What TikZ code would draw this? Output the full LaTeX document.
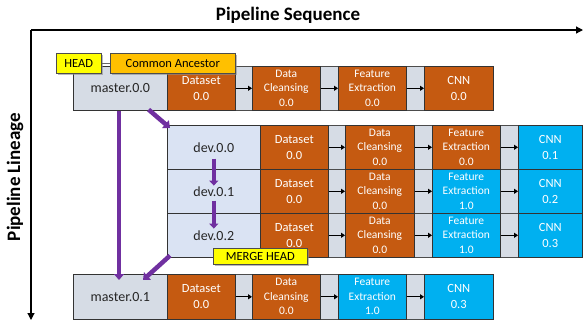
\documentclass[tikz,border=0pt]{standalone}
\usepackage{fontspec}
\setmainfont{Carlito}
\usetikzlibrary{arrows.meta,shadows}
\definecolor{corange}{HTML}{C55A11}
\definecolor{cblue}{HTML}{00B0F0}
\definecolor{cgray}{HTML}{D6DCE5}
\definecolor{cdev}{HTML}{DAE3F3}
\definecolor{cyellow}{HTML}{FFFF00}
\definecolor{cgold}{HTML}{FFC000}
\definecolor{cpurple}{HTML}{7030A0}
\tikzset{
  boxbase/.style={anchor=north west, inner sep=0pt, align=center, line width=0.6pt, draw=black!80},
  rowbg/.style={boxbase, fill=cgray, draw=black!70},
  mlabel/.style={boxbase, fill=cgray, text=black!85, font=\fontsize{14}{16}\selectfont},
  dlabel/.style={boxbase, fill=cdev, text=black!85, font=\fontsize{14}{16}\selectfont},
  ostage/.style={boxbase, fill=corange, text=white, font=\fontsize{12.5}{16}\selectfont},
  bstage/.style={boxbase, fill=cblue, text=white, font=\fontsize{12.5}{16}\selectfont},
  three/.style={font=\fontsize{11.5}{14.5}\selectfont},
  tag/.style={boxbase, draw=black!70, text=black, font=\fontsize{12.5}{14}\selectfont,
    drop shadow={shadow xshift=1.5pt, shadow yshift=-1.5pt, fill=black!45, opacity=0.6}},
  seqarrow/.style={draw=black, line width=1.3pt, -{Triangle[width=5pt,length=4pt]}},
  parrow/.style={draw=cpurple, line width=4.5pt, -{Triangle[width=10pt,length=6pt]}},
  sarrow/.style={draw=cpurple, line width=3.5pt, -{Triangle[width=9pt,length=5pt]}},
  axis/.style={draw=black, line width=1.2pt, -{Triangle[width=7pt,length=7pt]}},
}
\begin{document}
\begin{tikzpicture}[x=1pt,y=-1pt]
\useasboundingbox (0,0) rectangle (583,322);

% axes
\coordinate (origin) at (31,30);
\coordinate (xend) at (583,30);
\coordinate (yend) at (31,320);
\draw[axis] (origin) -- (xend);
\draw[axis] (origin) -- (yend);
\node[font=\bfseries\fontsize{19}{20}\selectfont] (title) at (288,15) {Pipeline Sequence};
\node[font=\bfseries\fontsize{19}{20}\selectfont, rotate=90] (ylabel) at (15,177) {Pipeline Lineage};

% ---------- row master.0.0
\node[rowbg, minimum width=420pt, minimum height=44pt] (abg) at (73,66) {};
\node[mlabel, minimum width=94pt, minimum height=44pt] (m00) at (73,66) {master.0.0};
\node[ostage, minimum width=68pt, minimum height=44pt] (ads) at (167,66) {Dataset\\0.0};
\node[ostage, three, minimum width=68pt, minimum height=44pt] (adc) at (252,66) {Data\\Cleansing\\0.0};
\node[ostage, three, minimum width=68pt, minimum height=44pt] (afe) at (338,66) {Feature\\Extraction\\0.0};
\node[ostage, minimum width=69pt, minimum height=44pt] (acn) at (424,66) {CNN\\0.0};
\draw[seqarrow] (ads.east) -- (adc.west);
\draw[seqarrow] (adc.east) -- (afe.west);
\draw[seqarrow] (afe.east) -- (acn.west);

% ---------- dev rows
\node[rowbg, minimum width=415pt, minimum height=44pt] (bbg) at (167,125) {};
\node[dlabel, minimum width=93pt, minimum height=44pt] (d00) at (167,125) {dev.0.0};
\node[ostage, minimum width=68pt, minimum height=44pt] (bds) at (260,125) {Dataset\\0.0};
\node[ostage, three, minimum width=69pt, minimum height=44pt] (bdc) at (345,125) {Data\\Cleansing\\0.0};
\node[ostage, three, minimum width=68pt, minimum height=44pt] (bfe) at (432,125) {Feature\\Extraction\\0.0};
\node[bstage, minimum width=64pt, minimum height=44pt] (bcn) at (518,125) {CNN\\0.1};
\draw[seqarrow] (bds.east) -- (bdc.west);
\draw[seqarrow] (bdc.east) -- (bfe.west);
\draw[seqarrow] (bfe.east) -- (bcn.west);

\node[rowbg, minimum width=415pt, minimum height=44pt] (cbg) at (167,169) {};
\node[dlabel, minimum width=93pt, minimum height=44pt] (d01) at (167,169) {dev.0.1};
\node[ostage, minimum width=68pt, minimum height=44pt] (cds) at (260,169) {Dataset\\0.0};
\node[ostage, three, minimum width=69pt, minimum height=44pt] (cdc) at (345,169) {Data\\Cleansing\\0.0};
\node[bstage, three, minimum width=68pt, minimum height=44pt] (cfe) at (432,169) {Feature\\Extraction\\1.0};
\node[bstage, minimum width=64pt, minimum height=44pt] (ccn) at (518,169) {CNN\\0.2};
\draw[seqarrow] (cds.east) -- (cdc.west);
\draw[seqarrow] (cdc.east) -- (cfe.west);
\draw[seqarrow] (cfe.east) -- (ccn.west);

\node[rowbg, minimum width=415pt, minimum height=44pt] (dbg) at (167,213) {};
\node[dlabel, minimum width=93pt, minimum height=44pt] (d02) at (167,213) {dev.0.2};
\node[ostage, minimum width=68pt, minimum height=44pt] (dds) at (260,213) {Dataset\\0.0};
\node[ostage, three, minimum width=69pt, minimum height=44pt] (ddc) at (345,213) {Data\\Cleansing\\0.0};
\node[bstage, three, minimum width=68pt, minimum height=44pt] (dfe) at (432,213) {Feature\\Extraction\\1.0};
\node[bstage, minimum width=64pt, minimum height=44pt] (dcn) at (518,213) {CNN\\0.3};
\draw[seqarrow] (dds.east) -- (ddc.west);
\draw[seqarrow] (ddc.east) -- (dfe.west);
\draw[seqarrow] (dfe.east) -- (dcn.west);

% ---------- row master.0.1
\node[rowbg, minimum width=420pt, minimum height=45pt] (ebg) at (73,274) {};
\node[mlabel, minimum width=94pt, minimum height=45pt] (m01) at (73,274) {master.0.1};
\node[ostage, minimum width=68pt, minimum height=45pt] (eds) at (167,274) {Dataset\\0.0};
\node[ostage, three, minimum width=68pt, minimum height=45pt] (edc) at (252,274) {Data\\Cleansing\\0.0};
\node[bstage, three, minimum width=68pt, minimum height=45pt] (efe) at (338,274) {Feature\\Extraction\\1.0};
\node[bstage, minimum width=69pt, minimum height=45pt] (ecn) at (424,274) {CNN\\0.3};
\draw[seqarrow] (eds.east) -- (edc.west);
\draw[seqarrow] (edc.east) -- (efe.west);
\draw[seqarrow] (efe.east) -- (ecn.west);

% ---------- lineage arrows
\coordinate (vx) at (119,0);
\draw[parrow] (m00.south -| vx) -- ([yshift=-6pt]m01.north -| vx);
\draw[parrow] ([xshift=-19pt,yshift=1pt]m00.south east) -- ([xshift=3pt,yshift=-3pt]d00.north west);
\draw[sarrow] ([yshift=11pt]d00.south) -- ([yshift=-16pt]d00.south);
\draw[sarrow] ([yshift=13pt]d01.south) -- ([yshift=-15pt]d01.south);
\draw[parrow] ([xshift=3pt,yshift=2pt]d02.south west) -- ([xshift=70pt,yshift=-6pt]m01.north west);

% ---------- tags
\node[tag, fill=cyellow, minimum width=45pt, minimum height=20pt] (head) at (56,53) {HEAD};
\node[tag, fill=cgold, minimum width=125pt, minimum height=20pt] (anc) at (110,53) {Common Ancestor};
\draw[draw=black!60, line width=0.6pt] (head.east) -- (anc.west);
\node[tag, fill=cyellow, minimum width=94pt, minimum height=16pt] (mhead) at (213,248) {MERGE HEAD};
\end{tikzpicture}
\end{document}
